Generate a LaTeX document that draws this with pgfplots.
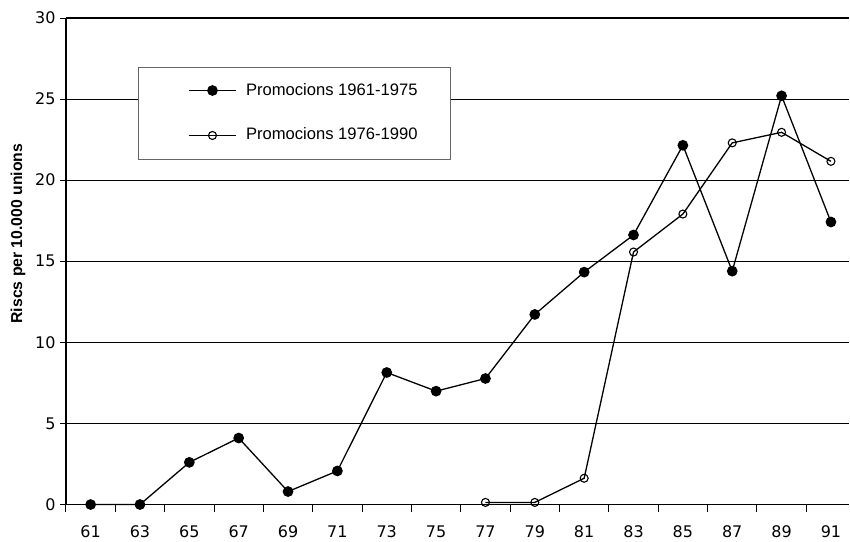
\documentclass[border=0pt]{standalone}
\usepackage{pgfplots}
\pgfplotsset{compat=1.18}
\usepackage{fontspec}
\setmainfont{Liberation Sans}
\newfontfamily\tickfont{DejaVu Sans}
\begin{document}
\begin{tikzpicture}
\begin{axis}[
  scale only axis,
  width=784bp, height=487bp,
  xmin=-0.5, xmax=15.37,
  ymin=0, ymax=30,
  axis x line*=bottom, axis y line*=left,
  axis line style={line width=1.6bp, -},
  xtick={0,...,15},
  xticklabels={61,63,65,67,69,71,73,75,77,79,81,83,85,87,89,91},
  minor xtick={-0.5,0.5,...,14.5},
  major x tick style={draw=none},
  minor x tick style={line width=0.9bp, black},
  minor tick length=7bp,
  ytick={0,5,...,30},
  major tick length=6bp,
  y tick style={line width=0.9bp, black},
  tick align=outside,
  ymajorgrids,
  grid style={line width=1.1bp, black},
  /pgf/number format/assume math mode=true,
  tick label style={font=\tickfont\fontsize{16bp}{18bp}\selectfont},
  xticklabel style={yshift=-12bp},
  yticklabel style={xshift=-1bp},
  ylabel={\bfseries Riscs per 10.000 unions},
  ylabel style={at={(axis description cs:-0.0612,0.557)}, anchor=center, font=\fontsize{15.8bp}{18bp}\selectfont},
  legend style={
    at={(axis cs:0.95,27.0)}, anchor=north west,
    draw=black!60, line width=0.8bp,
    inner xsep=33bp, inner ysep=16bp,
    row sep=30bp,
    font=\fontsize{16.6bp}{19bp}\selectfont,
    nodes={inner sep=0pt, text height=12bp, text depth=3bp},
    column sep=9bp,
  },
  legend cell align=left,
  legend image code/.code={
    \path (0bp,0bp);
    \draw[mark repeat=2,mark phase=2,#1] plot coordinates {(17bp,0bp) (41bp,0bp) (65bp,0bp)};
  },
  clip=false,
]
\addplot[black, line width=1.3bp, mark=*, mark size=4.7bp, mark options={fill=black}]
coordinates {
(0,0) (1,0) (2,2.6) (3,4.1) (4,0.8) (5,2.07) (6,8.14) (7,6.99) (8,7.77) (9,11.72)
(10,14.33) (11,16.62) (12,22.15) (13,14.39) (14,25.2) (15,17.42)
};
\addlegendentry{Promocions 1961-1975}
\addplot[black, line width=1.3bp, mark=o, mark size=4bp, mark options={fill=white, line width=1.1bp}]
coordinates {
(8,0.13) (9,0.13) (10,1.62) (11,15.57) (12,17.91) (13,22.30) (14,22.95) (15,21.16)
};
\addlegendentry{Promocions 1976-1990}
\coordinate (A) at (rel axis cs:0,0);
\end{axis}
\path (A) ++(-66bp,-36bp) rectangle ++(850bp,541bp);
\end{tikzpicture}
\end{document}
